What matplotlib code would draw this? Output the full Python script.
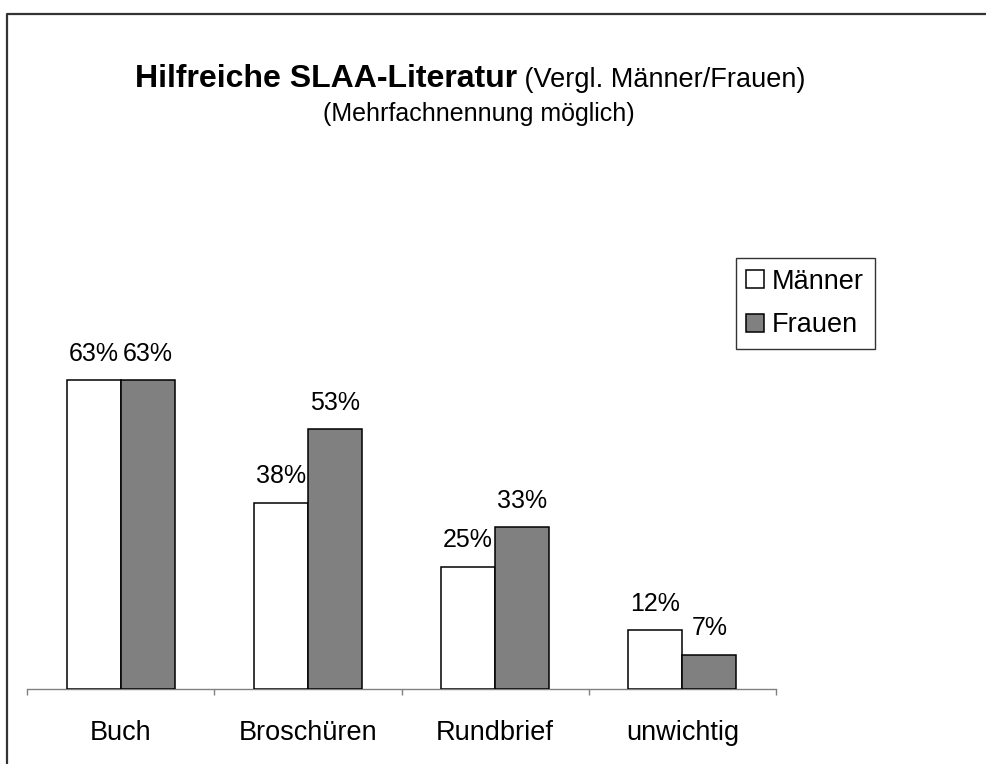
import matplotlib
matplotlib.use("Agg")
import matplotlib.pyplot as plt
from matplotlib.lines import Line2D
import numpy as np

plt.rcParams['font.family'] = ['Liberation Sans', 'DejaVu Sans']

categories = ["Buch", "Broschüren", "Rundbrief", "unwichtig"]
maenner = [63, 38, 25, 12]
frauen = [63, 53, 33, 7]
series_names = ["Männer", "Frauen"]

W, H = 986, 764
fig = plt.figure(figsize=(W/100, H/100), dpi=100)

# axes placement in pixels
left, right, bottom = 27, 776, 689
ymax = 70
px_per_unit = 4.9
top = bottom - ymax*px_per_unit
ax = fig.add_axes([left/W, 1-bottom/H, (right-left)/W, (bottom-top)/H])

x = np.arange(len(categories))
bw = 0.288
b1 = ax.bar(x - bw/2, maenner, bw, color='white', edgecolor='black', linewidth=1.1, label=series_names[0], zorder=3)
b2 = ax.bar(x + bw/2, frauen, bw, color='#808080', edgecolor='black', linewidth=1.1, label=series_names[1], zorder=3)

for bars, vals in ((b1, maenner), (b2, frauen)):
    for rect, v in zip(bars, vals):
        ax.annotate(f"{v}%", xy=(rect.get_x()+rect.get_width()/2, rect.get_height()),
                    xytext=(0, 14), textcoords='offset points', ha='center', va='baseline',
                    fontsize=18)

ax.set_xlim(-0.5, len(categories)-0.5)
ax.set_ylim(0, ymax)
for s in ('top', 'right', 'left'):
    ax.spines[s].set_visible(False)
ax.spines['bottom'].set_color('#808080')
ax.spines['bottom'].set_linewidth(1.0)
ax.set_yticks([])
ax.set_xticks(np.arange(len(categories)+1) - 0.5)
ax.set_xticklabels([])
ax.tick_params(axis='x', which='major', direction='out', length=4.5, color='#808080', width=1.0)
ax.set_xticks(x, minor=True)
ax.set_xticklabels(categories, minor=True, fontsize=19.5)
ax.tick_params(axis='x', which='minor', length=0, pad=22)

leg = ax.legend(loc='upper right', bbox_to_anchor=(875/W, 1-258/H), bbox_transform=fig.transFigure,
                fontsize=19.5, frameon=True, fancybox=False, edgecolor='black',
                handlelength=0.65, handleheight=0.65, handletextpad=0.3, labelspacing=0.65,
                borderpad=0.4, borderaxespad=0)
leg.get_frame().set_linewidth(1.0)

t1 = fig.text(135/W, 1-87/H, "Hilfreiche SLAA-Literatur", fontsize=23, fontweight='bold',
              ha='left', va='baseline')
fig.canvas.draw()
bb = t1.get_window_extent()
fig.text(bb.x1/W, 1-87/H, " (Vergl. Männer/Frauen)", fontsize=19.5, ha='left', va='baseline')
fig.text(479/W, 1-114/H, "(Mehrfachnennung möglich)", fontsize=18, ha='center', va='center')

fig.add_artist(Line2D([7/W, 7/W, 1], [0, 1-14/H, 1-14/H], transform=fig.transFigure,
                      color='#333333', linewidth=1.6))

fig.savefig("out.png", dpi=100)
